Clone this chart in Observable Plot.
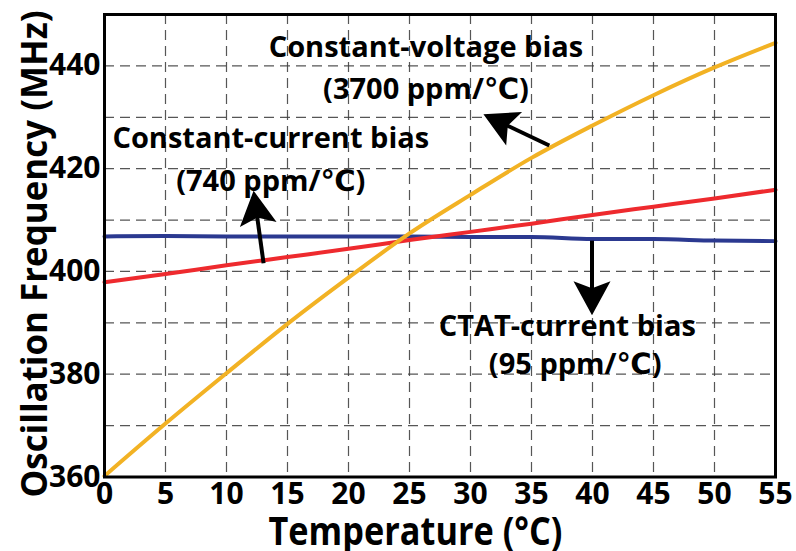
<!DOCTYPE html>
<html>
<head>
<meta charset="utf-8">
<script src="https://cdn.jsdelivr.net/npm/d3@7"></script>
<script src="https://cdn.jsdelivr.net/npm/@observablehq/plot@0.6"></script>
<style>
  html, body { margin: 0; padding: 0; background: white; }
  #chart svg { display: block; }
</style>
</head>
<body>
<div id="chart"></div>
<script>
// ---- data ----
const temperature = [0, 5, 10, 15, 20, 25, 30, 35, 40, 45, 50, 55];
const ctatCurrent = [406.8, 406.9, 406.8, 406.8, 406.8, 406.8, 406.7, 406.7, 406.3, 406.3, 406.0, 405.9];
const constantCurrent = [397.9, 399.5, 401.2, 402.8, 404.4, 406.1, 407.7, 409.3, 411.0, 412.6, 414.2, 415.9];
const constantVoltage = [360.2, 370.4, 380.2, 389.8, 398.8, 407.4, 414.9, 422.1, 428.4, 434.3, 439.7, 444.5];

const xTicks = [0, 5, 10, 15, 20, 25, 30, 35, 40, 45, 50, 55];
const yTicks = [360, 380, 400, 420, 440];
const xGrid = [5, 10, 15, 20, 25, 30, 35, 40, 45, 50];
const yGrid = [370, 380, 390, 400, 410, 420, 430, 440];

const xLabel = "Temperature (°C)";
const yLabel = "Oscillation Frequency (MHz)";

// annotation labels (x, y in data units; baseline)
const annotations = [
  {x: 26.35, y: 441.8, text: "Constant-voltage bias"},
  {x: 26.35, y: 433.6, text: "(3700 ppm/℃)"},
  {x: 13.63, y: 424.1, text: "Constant-current bias"},
  {x: 13.63, y: 415.6, text: "(740 ppm/℃)"},
  {x: 37.93, y: 387.5, text: "CTAT-current bias"},
  {x: 38.58, y: 380.1, text: "(95 ppm/℃)"}
];
// annotation arrows: tail (x1,y1) -> tip (x2,y2), data units
const arrows = [
  {x1: 36.5, y1: 424.4, x2: 31.1, y2: 430.5},
  {x1: 13.08, y1: 401.5, x2: 12.26, y2: 415.6},
  {x1: 40.0, y1: 405.9, x2: 40.0, y2: 391.4}
];

// ---- build tables ----
const series = [
  {name: "CTAT-current bias", values: ctatCurrent, color: "#2B3990"},
  {name: "Constant-current bias", values: constantCurrent, color: "#EE2A2E"},
  {name: "Constant-voltage bias", values: constantVoltage, color: "#F2B224"}
];
const rows = series.flatMap(s => temperature.map((t, i) => ({t, f: s.values[i], name: s.name})));

const FONT = "'Open Sans', 'DejaVu Sans', sans-serif";

function arrowMark(data) {
  return (index, scales) => {
    const g = d3.create("svg:g");
    const L = 34, W = 18.5, N = 27;
    for (const a of data) {
      const x1 = scales.x(a.x1), y1 = scales.y(a.y1);
      const x2 = scales.x(a.x2), y2 = scales.y(a.y2);
      const ang = Math.atan2(y2 - y1, x2 - x1);
      const ux = Math.cos(ang), uy = Math.sin(ang);
      const nx = -uy, ny = ux;
      const bx = x2 - ux * N, by = y2 - uy * N;
      g.append("line")
        .attr("x1", x1).attr("y1", y1)
        .attr("x2", bx + ux * 2).attr("y2", by + uy * 2)
        .attr("stroke", "black").attr("stroke-width", 4);
      g.append("path")
        .attr("d", `M${x2},${y2}L${x2 - ux * L + nx * W},${y2 - uy * L + ny * W}L${bx},${by}L${x2 - ux * L - nx * W},${y2 - uy * L - ny * W}Z`)
        .attr("fill", "black");
    }
    return g.node();
  };
}

const chart = Plot.plot({
  width: 796,
  height: 551,
  marginLeft: 104,
  marginRight: 21,
  marginTop: 14,
  marginBottom: 74.5,
  style: {fontFamily: FONT, fontWeight: "bold", background: "white", color: "black"},
  x: {domain: [0, 55]},
  y: {domain: [360, 450]},
  color: {domain: series.map(s => s.name), range: series.map(s => s.color)},
  marks: [
    Plot.gridX(xGrid, {stroke: "#444", strokeOpacity: 0.9, strokeWidth: 1.2, strokeDasharray: "10,6"}),
    Plot.gridY(yGrid, {stroke: "#444", strokeOpacity: 0.9, strokeWidth: 1.2, strokeDasharray: "10,6"}),
    Plot.line(rows, {x: "t", y: "f", z: "name", stroke: "name", strokeWidth: 4, curve: "monotone-x"}),
    arrowMark(arrows),
    Plot.text(annotations, {x: "x", y: "y", text: "text", fontSize: 29, fontWeight: 700, fontFamily: FONT,
      textAnchor: "middle", lineAnchor: "bottom", fill: "black"}),
    Plot.axisX(xTicks, {tickSize: 0, tickPadding: 6, fontSize: 30, fontWeight: 700, label: null}),
    Plot.axisY(yTicks, {tickSize: 0, tickPadding: 4, fontSize: 30, fontWeight: 700, label: null}),
    Plot.text([xLabel], {frameAnchor: "bottom", dx: -24.5, dy: 67.5, textAnchor: "middle", lineAnchor: "bottom",
      fontSize: 39, fontWeight: 700, fontFamily: FONT, fill: "black"}),
    Plot.text([yLabel], {frameAnchor: "left", dx: -58, dy: 8.25, rotate: -90, textAnchor: "middle", lineAnchor: "bottom",
      fontSize: 35, fontWeight: 700, fontFamily: FONT, fill: "black"}),
    Plot.frame({stroke: "black", strokeWidth: 3})
  ]
});
// fit the axis titles to the reference widths
const titleLengths = new Map([[xLabel, 294], [yLabel, 487]]);
d3.select(chart).selectAll("text").each(function () {
  const L = titleLengths.get(this.textContent);
  if (L) d3.select(this).attr("textLength", L).attr("lengthAdjust", "spacingAndGlyphs");
});
document.getElementById("chart").appendChild(chart);
</script>
</body>
</html>
